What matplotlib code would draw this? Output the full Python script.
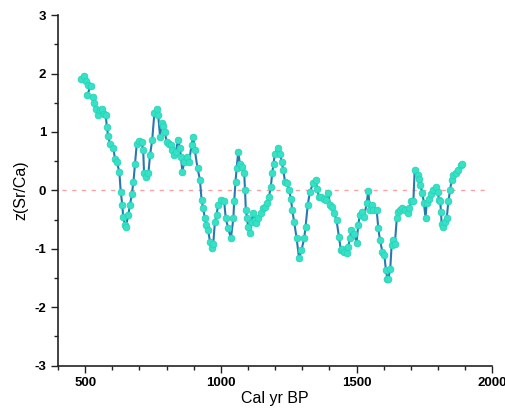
import matplotlib
matplotlib.use("Agg")
import matplotlib.pyplot as plt
from matplotlib.ticker import MultipleLocator

plt.rcParams["font.family"] = ["Liberation Sans", "DejaVu Sans"]
plt.rcParams["axes.unicode_minus"] = False

# Sr/Ca z-scores
years = [485, 496, 503, 512, 520, 508, 528, 534, 540, 546, 555, 561, 569, 576,
         580, 585, 591, 604, 610, 616, 626, 631, 637, 640, 647, 650, 659, 665,
         672, 678, 684, 690, 700, 708, 714, 717, 724, 733, 739, 747, 755, 763,
         769, 776, 782, 788, 794, 800, 809, 816, 821, 828, 833, 843, 849, 853,
         858, 865, 874, 883, 892, 898, 904, 914, 923, 929, 935, 941, 947, 953,
         960, 966, 972, 978, 984, 990, 1000, 1012, 1018, 1027, 1037, 1046, 1049,
         1054, 1058, 1064, 1070, 1076, 1086, 1089, 1092, 1097, 1100, 1107, 1113,
         1119, 1125, 1131, 1138, 1148, 1156, 1162, 1169, 1177, 1184, 1189, 1194,
         1199, 1209, 1218, 1224, 1230, 1236, 1244, 1251, 1258, 1263, 1270, 1279,
         1288, 1297, 1307, 1312, 1320, 1328, 1340, 1349, 1355, 1361, 1368, 1381,
         1389, 1396, 1402, 1408, 1418, 1426, 1435, 1442, 1446, 1455, 1464, 1469,
         1475, 1481, 1491, 1500, 1506, 1512, 1521, 1528, 1537, 1543, 1549, 1555,
         1561, 1574, 1580, 1586, 1595, 1602, 1608, 1613, 1617, 1624, 1629, 1635,
         1641, 1648, 1654, 1660, 1668, 1678, 1688, 1694, 1700, 1709, 1714, 1725,
         1730, 1735, 1742, 1748, 1754, 1758, 1767, 1775, 1783, 1792, 1799, 1804,
         1808, 1811, 1813, 1820, 1826, 1832, 1838, 1844, 1850, 1856, 1865, 1875,
         1884, 1889]
zscore = [1.90, 1.96, 1.88, 1.80, 1.79, 1.63, 1.60, 1.49, 1.40, 1.29, 1.37, 1.40,
          1.30, 1.29, 1.08, 0.93, 0.80, 0.73, 0.53, 0.49, 0.32, -0.02, -0.25,
          -0.45, -0.59, -0.62, -0.42, -0.25, -0.07, 0.15, 0.46, 0.79, 0.85, 0.82,
          0.69, 0.29, 0.23, 0.29, 0.60, 0.86, 1.32, 1.40, 1.29, 0.92, 1.15, 1.10,
          1.00, 0.83, 0.80, 0.78, 0.69, 0.60, 0.65, 0.87, 0.72, 0.58, 0.32, 0.49,
          0.58, 0.49, 0.78, 0.92, 0.69, 0.38, 0.18, -0.17, -0.31, -0.48, -0.59,
          -0.68, -0.88, -0.99, -0.91, -0.54, -0.42, -0.25, -0.17, -0.18, -0.48,
          -0.65, -0.82, -0.48, -0.19, 0.15, 0.38, 0.66, 0.46, 0.40, 0.29, 0.00,
          -0.34, -0.48, -0.62, -0.73, -0.54, -0.39, -0.51, -0.56, -0.48, -0.39,
          -0.31, -0.29, -0.22, -0.11, 0.06, 0.29, 0.46, 0.63, 0.72, 0.63, 0.49,
          0.35, 0.15, 0.13, 0.00, -0.14, -0.34, -0.54, -0.82, -1.16, -1.02, -0.82,
          -0.62, -0.25, -0.02, 0.12, 0.18, 0.03, -0.12, -0.12, -0.14, -0.16,
          -0.05, -0.25, -0.29, -0.39, -0.51, -0.79, -1.02, -1.00, -1.05, -1.07,
          -0.97, -0.82, -0.67, -0.74, -0.90, -0.59, -0.42, -0.37, -0.45, -0.22,
          -0.01, -0.34, -0.25, -0.34, -0.34, -0.65, -0.85, -1.05, -1.11, -1.36,
          -1.51, -1.51, -1.34, -0.94, -0.85, -0.91, -0.48, -0.37, -0.34, -0.31,
          -0.34, -0.39, -0.31, -0.19, -0.19, 0.35, 0.26, 0.20, 0.09, -0.05, -0.21,
          -0.48, -0.22, -0.14, -0.06, 0.00, 0.05, -0.02, -0.17, -0.19, -0.37,
          -0.57, -0.62, -0.54, -0.48, -0.19, 0.00, 0.18, 0.26, 0.30, 0.35, 0.43,
          0.45]

fig = plt.figure(figsize=(5.06, 4.09), dpi=100)
ax = fig.add_axes([0.1146, 0.106, 0.8584, 0.857])

ax.axhline(0, xmin=0.01, xmax=0.99, color="#f5a3a3", lw=1.0, ls=(0, (3, 4)))
ax.plot(years, zscore, color="#2a78b0", lw=1.5, zorder=2)
ax.plot(years, zscore, ls="none", marker="o", ms=4.8, mfc="#36e2c6",
        mec="#28d4b6", mew=0.6, zorder=3)

ax.set_xlim(400, 2000)
ax.set_ylim(-3, 3)
ax.xaxis.set_major_locator(MultipleLocator(500))
ax.xaxis.set_minor_locator(MultipleLocator(100))
ax.yaxis.set_major_locator(MultipleLocator(1))
ax.yaxis.set_minor_locator(MultipleLocator(0.5))
ax.tick_params(which="major", direction="out", length=5, width=1.0,
               labelsize=9.5, color="#222222")
ax.tick_params(which="minor", direction="out", length=3, width=1.0,
               color="#222222")
for lbl in ax.get_xticklabels() + ax.get_yticklabels():
    lbl.set_fontweight("bold")

for side in ("top", "right"):
    ax.spines[side].set_visible(False)
for side in ("left", "bottom"):
    ax.spines[side].set_linewidth(1.2)
    ax.spines[side].set_color("#222222")

ax.set_xlabel("Cal yr BP", fontsize=11.5, labelpad=1)
ax.set_ylabel("z(Sr/Ca)", fontsize=11.5, labelpad=4)

fig.savefig("out.png", dpi=100)
